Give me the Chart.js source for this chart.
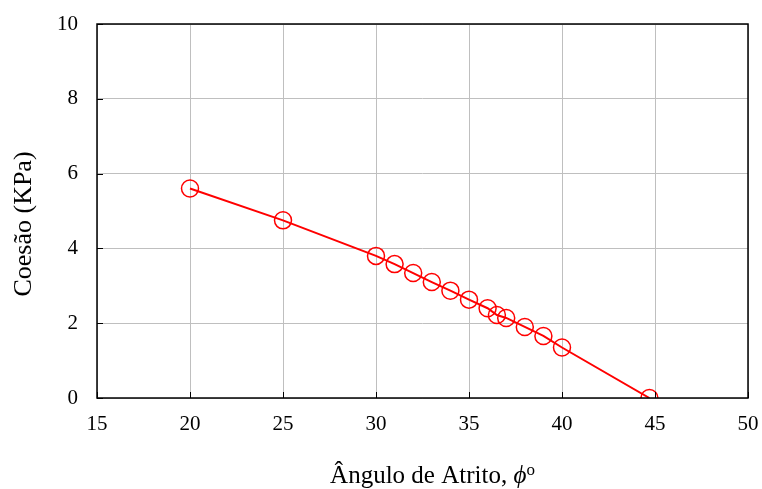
<!DOCTYPE html>
<html>
<head>
<meta charset="utf-8">
<script src="https://cdn.jsdelivr.net/npm/chart.js@4/dist/chart.umd.min.js"></script>
<style>
  html, body { margin: 0; padding: 0; background: #fff; }
  #wrap { width: 762px; height: 489px; }
</style>
</head>
<body>
<div id="wrap"><canvas id="chart"></canvas></div>
<script>
// ângulo de atrito (graus) e coesão (KPa)
const angles = [20, 25, 30, 31, 32, 33, 34, 35, 36, 36.5, 37, 38, 39, 40, 44.7];
const cohesion = [5.6, 4.75, 3.8, 3.58, 3.34, 3.1, 2.87, 2.63, 2.4, 2.22, 2.14, 1.9, 1.66, 1.35, 0];

const xTicks = [15, 20, 25, 30, 35, 40, 45, 50];
const yTicks = [0, 2, 4, 6, 8, 10];

const serif = '"Liberation Serif", "Times New Roman", serif';

// moldura do gráfico, marcas internas e títulos dos eixos (com phi itálico)
const framePlugin = {
  id: 'framePlugin',
  afterDraw(chart) {
    const ctx = chart.ctx;
    const { left, right, top, bottom } = chart.chartArea;
    const xs = chart.scales.x, ys = chart.scales.y;

    ctx.save();
    ctx.strokeStyle = '#000';
    ctx.lineWidth = 1.5;
    ctx.strokeRect(left, top, right - left, bottom - top);

    ctx.lineWidth = 1;
    ctx.beginPath();
    xTicks.forEach(v => {
      const x = Math.round(xs.getPixelForValue(v)) + 0.5;
      ctx.moveTo(x, bottom);
      ctx.lineTo(x, bottom - 6);
    });
    yTicks.forEach(v => {
      const y = Math.round(ys.getPixelForValue(v)) + 0.5;
      ctx.moveTo(left, y);
      ctx.lineTo(left + 6, y);
    });
    ctx.stroke();

    ctx.fillStyle = '#000';
    ctx.textBaseline = 'alphabetic';

    // título do eixo y
    ctx.save();
    ctx.translate(31, 224);
    ctx.rotate(-Math.PI / 2);
    ctx.textAlign = 'center';
    ctx.font = '26px ' + serif;
    ctx.fillText('Coesão (KPa)', 0, 0);
    ctx.restore();

    // título do eixo x
    const part1 = 'Ângulo de Atrito, ';
    const part2 = 'ϕ';
    const part3 = 'o';
    ctx.font = '25px ' + serif;
    const w1 = ctx.measureText(part1).width;
    ctx.font = 'italic 25px ' + serif;
    const w2 = ctx.measureText(part2).width;
    ctx.font = '17px ' + serif;
    const w3 = ctx.measureText(part3).width;
    const total = w1 + w2 + w3;
    const x0 = (left + right) / 2 - total / 2 + 10;
    const base = 483;
    ctx.textAlign = 'left';
    ctx.font = '25px ' + serif;
    ctx.fillText(part1, x0, base);
    ctx.font = 'italic 25px ' + serif;
    ctx.fillText(part2, x0 + w1, base);
    ctx.font = '17px ' + serif;
    ctx.fillText(part3, x0 + w1 + w2, base - 8);
    ctx.restore();
  }
};

new Chart(document.getElementById('chart').getContext('2d'), {
  type: 'scatter',
  data: {
    datasets: [{
      data: angles.map((a, i) => ({ x: a, y: cohesion[i] })),
      showLine: true,
      borderColor: '#ff0000',
      borderWidth: 2,
      backgroundColor: 'rgba(0,0,0,0)',
      pointBorderColor: '#ff0000',
      pointBackgroundColor: 'rgba(0,0,0,0)',
      pointBorderWidth: 1.5,
      pointRadius: 8.5,
      tension: 0
    }]
  },
  options: {
    responsive: true,
    maintainAspectRatio: false,
    animation: false,
    layout: { padding: { top: 24, right: 14, left: 0, bottom: 0 } },
    plugins: {
      legend: { display: false },
      tooltip: { enabled: false }
    },
    scales: {
      x: {
        type: 'linear',
        min: 15,
        max: 50,
        afterBuildTicks: axis => { axis.ticks = xTicks.map(v => ({ value: v })); },
        afterFit: axis => {
          axis.height = 91;
          axis.paddingLeft = 0;
          axis.paddingRight = 0;
        },
        grid: { color: '#bfbfbf', lineWidth: 1, drawTicks: false },
        border: { display: false },
        ticks: { color: '#000', font: { family: serif, size: 21 }, padding: 14 }
      },
      y: {
        type: 'linear',
        min: 0,
        max: 10,
        afterBuildTicks: axis => { axis.ticks = yTicks.map(v => ({ value: v })); },
        afterFit: axis => {
          axis.width = 97;
          axis.paddingTop = 0;
          axis.paddingBottom = 0;
        },
        grid: { color: '#bfbfbf', lineWidth: 1, drawTicks: false },
        border: { display: false },
        ticks: { color: '#000', font: { family: serif, size: 21 }, padding: 19 }
      }
    }
  },
  plugins: [framePlugin]
});
</script>
</body>
</html>
